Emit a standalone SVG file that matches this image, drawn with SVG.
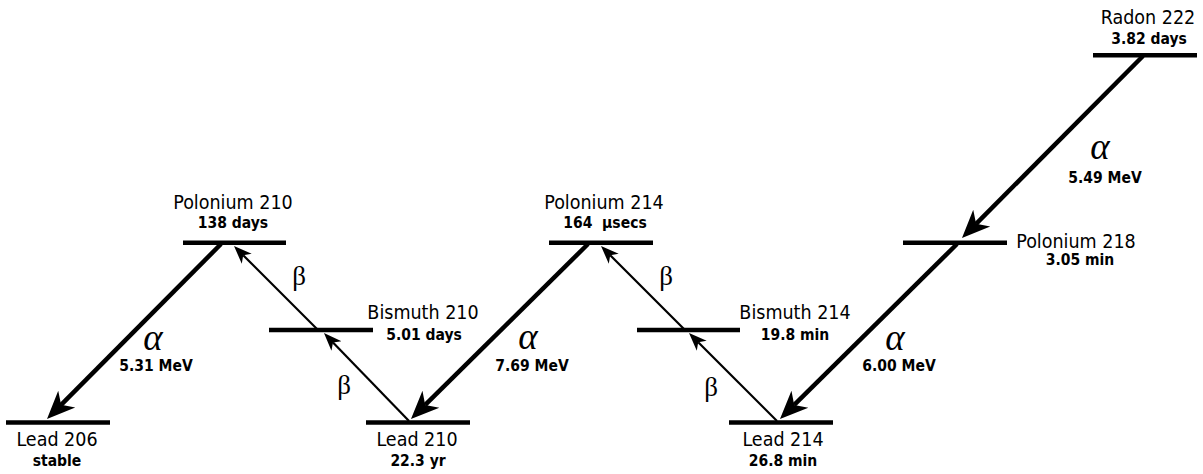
<svg xmlns="http://www.w3.org/2000/svg" width="1203" height="474" viewBox="0 0 1203 474">
<style>
.bar{stroke:#000;stroke-width:4.5;fill:none}
.name{font-family:"DejaVu Sans Condensed","DejaVu Sans",sans-serif;font-stretch:condensed;font-size:19.5px;text-anchor:middle;fill:#000}
.val{font-family:"DejaVu Sans Condensed","DejaVu Sans",sans-serif;font-stretch:condensed;font-weight:bold;font-size:15.5px;text-anchor:middle;fill:#000}
.a{stroke:#000;stroke-width:4.5;fill:none;marker-end:url(#ha)}
.b{stroke:#000;stroke-width:2.2;fill:none;marker-end:url(#hb)}
.alpha{font-family:"Liberation Serif",serif;font-style:italic;font-size:37px;text-anchor:middle;fill:#000}
.beta{font-family:"Liberation Serif",serif;font-size:27px;text-anchor:middle;fill:#000}
</style>
<defs>
<marker id="ha" viewBox="0 -13 30 26" markerWidth="30" markerHeight="26" refX="8" refY="0" orient="auto" markerUnits="userSpaceOnUse"><path d="M0,-12 L28,0 L0,12 L8,0 Z" fill="#000"/></marker>
<marker id="hb" viewBox="0 -8 20 16" markerWidth="20" markerHeight="16" refX="5" refY="0" orient="auto" markerUnits="userSpaceOnUse"><path d="M0,-7 L18,0 L0,7 L5,0 Z" fill="#000"/></marker>
</defs>
<rect width="1203" height="474" fill="#fff"/>
<g id="connectors">
<path class="a" d="M1143,56 L976.1,223.8"/>
<path class="a" d="M957,244 L794.2,404.9"/>
<path class="a" d="M221,244 L61.1,404.8"/>
<path class="a" d="M588,244 L425.2,404.9"/>
<path class="b" d="M409,421 L333,342.4"/>
<path class="b" d="M318,330 L243.2,255.2"/>
<path class="b" d="M777,421 L698.2,342.2"/>
<path class="b" d="M685,330 L610.2,255.2"/>
<text class="alpha" x="1100" y="159">α</text>
<text class="val" x="1105" y="183">5.49 MeV</text>
<text class="alpha" x="895" y="350">α</text>
<text class="val" x="899" y="371">6.00 MeV</text>
<text class="alpha" x="153" y="350">α</text>
<text class="val" x="156" y="371">5.31 MeV</text>
<text class="alpha" x="528" y="349">α</text>
<text class="val" x="532" y="371">7.69 MeV</text>
<text class="beta" x="299" y="285">β</text>
<text class="beta" x="344" y="394">β</text>
<text class="beta" x="666" y="285">β</text>
<text class="beta" x="711" y="396">β</text>
</g>
<g id="radon222"><line class="bar" x1="1093" y1="55.3" x2="1197" y2="55.3"/><text class="name" x="1148" y="24">Radon 222</text><text class="val" x="1149" y="44">3.82 days</text></g>
<g id="polonium218"><line class="bar" x1="903" y1="242.7" x2="1007" y2="242.7"/><text class="name" x="1076" y="248">Polonium 218</text><text class="val" x="1080" y="265">3.05 min</text></g>
<g id="lead214"><line class="bar" x1="729" y1="422.5" x2="833" y2="422.5"/><text class="name" x="783" y="446">Lead 214</text><text class="val" x="783" y="466">26.8 min</text></g>
<g id="bismuth214"><line class="bar" x1="637" y1="330" x2="740" y2="330"/><text class="name" x="795" y="319">Bismuth 214</text><text class="val" x="795" y="340">19.8 min</text></g>
<g id="polonium214"><line class="bar" x1="549" y1="242.7" x2="653" y2="242.7"/><text class="name" x="604" y="209">Polonium 214</text><text class="val" x="605" y="228">164&#160; µsecs</text></g>
<g id="lead210"><line class="bar" x1="366" y1="422.5" x2="470" y2="422.5"/><text class="name" x="417" y="446">Lead 210</text><text class="val" x="418" y="466">22.3 yr</text></g>
<g id="bismuth210"><line class="bar" x1="269" y1="330" x2="373" y2="330"/><text class="name" x="423" y="319">Bismuth 210</text><text class="val" x="424" y="340">5.01 days</text></g>
<g id="polonium210"><line class="bar" x1="183" y1="242.7" x2="286" y2="242.7"/><text class="name" x="233" y="209">Polonium 210</text><text class="val" x="233" y="228">138 days</text></g>
<g id="lead206"><line class="bar" x1="6" y1="422.5" x2="110" y2="422.5"/><text class="name" x="57" y="446">Lead 206</text><text class="val" x="57" y="466">stable</text></g>
</svg>
